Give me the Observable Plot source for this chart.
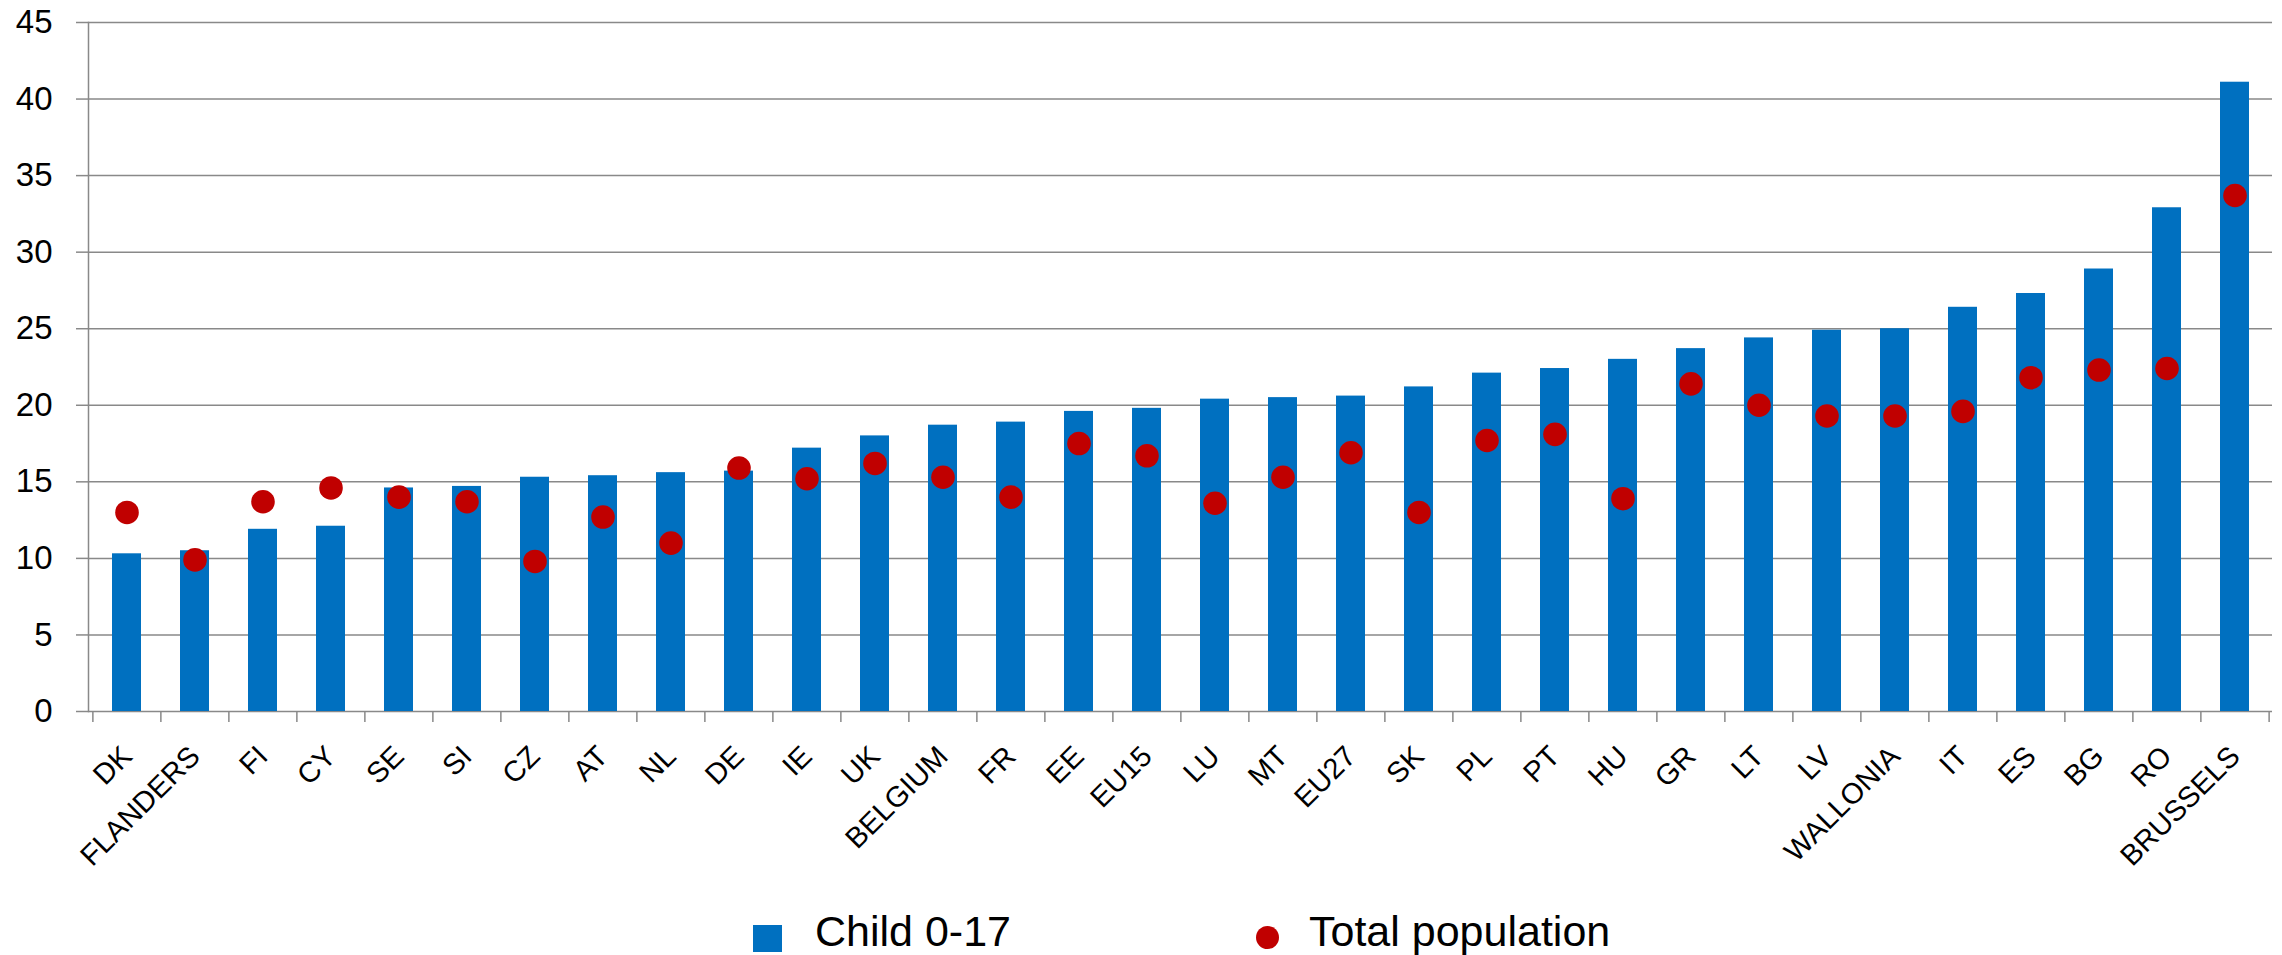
<!DOCTYPE html>
<html><head><meta charset="utf-8">
<script src="https://cdn.jsdelivr.net/npm/d3@7"></script>
<script src="https://cdn.jsdelivr.net/npm/@observablehq/plot@0.6"></script>
<style>
body{margin:0;background:#fff;}
#wrap{position:relative;width:2282px;height:955px;overflow:hidden;font-family:"Liberation Sans",Arial,sans-serif;background:#fff;}
#legend{position:relative;height:50px;}
#legend .sw{position:absolute;}
#legend .lt{position:absolute;font-size:43px;line-height:43px;color:#000;white-space:nowrap;}
</style></head><body><div id="wrap"></div>
<script>
const categories = ["DK","FLANDERS","FI","CY","SE","SI","CZ","AT","NL","DE","IE","UK","BELGIUM","FR","EE","EU15","LU","MT","EU27","SK","PL","PT","HU","GR","LT","LV","WALLONIA","IT","ES","BG","RO","BRUSSELS"];
const child = [10.3,10.5,11.9,12.1,14.6,14.7,15.3,15.4,15.6,15.7,17.2,18.0,18.7,18.9,19.6,19.8,20.4,20.5,20.6,21.2,22.1,22.4,23.0,23.7,24.4,24.9,25.0,26.4,27.3,28.9,32.9,41.1];
const total = [13.0,9.9,13.7,14.6,14.0,13.7,9.8,12.7,11.0,15.9,15.2,16.2,15.3,14.0,17.5,16.7,13.6,15.3,16.9,13.0,17.7,18.1,13.9,21.4,20.0,19.3,19.3,19.6,21.8,22.3,22.4,33.7];
const yTicks = [0,5,10,15,20,25,30,35,40,45];
const seriesNames = ["Child 0-17","Total population"];
const colors = ["#0070C0","#C00000"];

const W = 2282, H = 905, mL = 88, mR = 10, mT = 22, mB = 194;
const step = (W - mL - mR) / categories.length;
const grid = "#898989";
const data = categories.map((c, i) => ({c, child: child[i], total: total[i]}));

const plot = Plot.plot({
  width: W, height: H,
  marginLeft: mL, marginRight: mR, marginTop: mT, marginBottom: mB,
  style: {fontFamily: "'Liberation Sans', Arial, sans-serif", fontSize: "33px", color: "#000", background: "#fff", overflow: "visible"},
  x: {domain: categories, paddingInner: 0.575, paddingOuter: 0.2875, axis: null},
  y: {domain: [0, 45], axis: null},
  marks: [
    Plot.gridY(yTicks, {stroke: grid, strokeOpacity: 1, strokeWidth: 1.5}),
    Plot.axisY(yTicks, {tickSize: 12, tickPadding: 24, stroke: grid, strokeOpacity: 1, strokeWidth: 1.5, fill: "#000", fontSize: 33, label: null}),
    Plot.frame({anchor: "left", stroke: grid, strokeWidth: 1.5}),
    Plot.axisX(categories, {tickSize: 11, tickFormat: () => "", dx: -step / 2, stroke: grid, strokeOpacity: 1, strokeWidth: 1.5, label: null}),
    Plot.axisX([categories[categories.length - 1]], {tickSize: 11, tickFormat: () => "", dx: step / 2, stroke: grid, strokeOpacity: 1, strokeWidth: 1.5, label: null}),
    Plot.barY(data, {x: "c", y: "child", fill: colors[0]}),
    Plot.dot(data, {x: "c", y: "total", r: 11.8, fill: colors[1], stroke: "none"}),
    Plot.text(data, {x: "c", text: "c", frameAnchor: "bottom", dy: 40, rotate: -45, textAnchor: "end", lineAnchor: "middle", fontSize: 29, fill: "#000"})
  ]
});

const wrap = document.getElementById("wrap");
wrap.appendChild(plot);

const legend = document.createElement("div");
legend.id = "legend";
legend.innerHTML =
  `<div class="sw" style="left:753px;top:20px;width:29px;height:27px;background:${colors[0]}"></div>` +
  `<div class="lt" style="left:815px;top:5px">${seriesNames[0]}</div>` +
  `<div class="sw" style="left:1256px;top:21px;width:23px;height:23px;border-radius:50%;background:${colors[1]}"></div>` +
  `<div class="lt" style="left:1309px;top:5px">${seriesNames[1]}</div>`;
wrap.appendChild(legend);
</script>
</body></html>
